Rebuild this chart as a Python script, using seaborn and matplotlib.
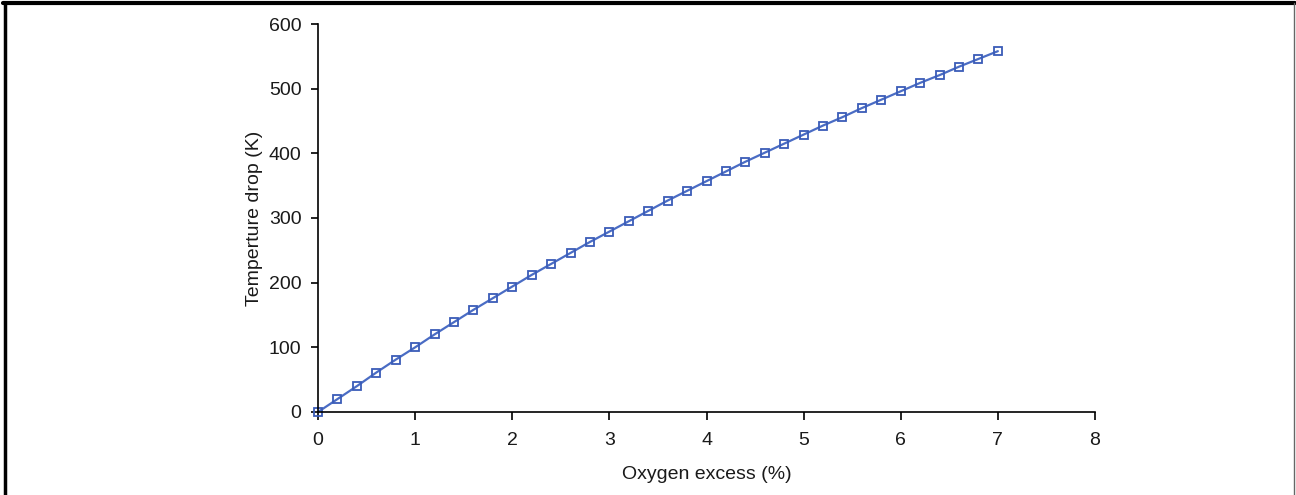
import numpy as np
import pandas as pd
import seaborn as sns
import matplotlib.pyplot as plt
from matplotlib.lines import Line2D

sns.set_theme(style="ticks")
plt.rcParams["font.family"] = ["Liberation Sans", "DejaVu Sans"]

# oxygen excess (%) and temperature drop (K)
oxygen = [0.0, 0.2, 0.4, 0.6, 0.8, 1.0, 1.2, 1.4, 1.6, 1.8,
          2.0, 2.2, 2.4, 2.6, 2.8, 3.0, 3.2, 3.4, 3.6, 3.8,
          4.0, 4.2, 4.4, 4.6, 4.8, 5.0, 5.2, 5.4, 5.6, 5.8,
          6.0, 6.2, 6.4, 6.6, 6.8, 7.0]
temp_drop = [0, 20, 40, 61, 81, 100, 120, 139, 158, 176,
             194, 212, 229, 246, 263, 279, 295, 311, 327, 342,
             357, 372, 387, 401, 415, 429, 443, 456, 470, 483,
             496, 509, 521, 534, 546, 558]

df = pd.DataFrame({"Oxygen excess (%)": oxygen, "Temperture drop (K)": temp_drop})

fig = plt.figure(figsize=(12.96, 4.95), dpi=100)
ax = fig.add_axes([0.2454, 0.1677, 0.5995, 0.7838])

sns.lineplot(data=df, x="Oxygen excess (%)", y="Temperture drop (K)", ax=ax,
             color="#4a6cc4", linewidth=1.6, marker="s", markersize=6,
             markerfacecolor="none", markeredgecolor="#3a5cb8", markeredgewidth=1.3)
for ln in ax.lines:
    ln.set_clip_on(False)

ax.set_xlim(0, 8)
ax.set_ylim(0, 600)
ax.set_xticks(range(0, 9))
ax.set_yticks(range(0, 601, 100))
sns.despine(ax=ax)
for s in ["left", "bottom"]:
    ax.spines[s].set_color("black")
    ax.spines[s].set_linewidth(1.2)
ax.tick_params(direction="out", length=5, width=1.2, colors="black",
               labelcolor="#1a1a1a", labelsize=14)
ax.tick_params(axis="x", length=5.5, pad=9)
ax.tick_params(axis="y", pad=7)
ax.set_xlabel("Oxygen excess (%)", fontsize=14, color="#1a1a1a", labelpad=12)
ax.set_ylabel("Temperture drop (K)", fontsize=14, color="#1a1a1a", labelpad=4)

# frame round the figure
fig.add_artist(Line2D([0.002, 0.999], [0.993, 0.993], transform=fig.transFigure, color="black", linewidth=3))
fig.add_artist(Line2D([0.0035, 0.0035], [0.0, 0.993], transform=fig.transFigure, color="black", linewidth=2.5))
fig.add_artist(Line2D([0.9985, 0.9985], [0.0, 0.993], transform=fig.transFigure, color="#666666", linewidth=1))

fig.savefig("out.png", dpi=100)
